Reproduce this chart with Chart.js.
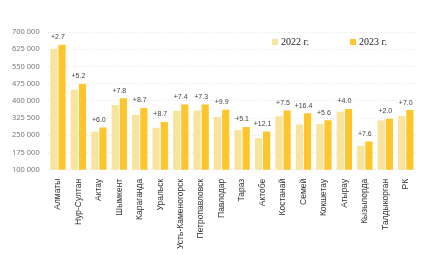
<!DOCTYPE html>
<html><head><meta charset="utf-8">
<script src="https://cdn.jsdelivr.net/npm/chart.js@4"></script>
<style>html,body{margin:0;padding:0;background:#fff;overflow:hidden}#o{width:432px;height:261px;box-sizing:border-box;padding-top:5px}#w{position:relative;width:432px;height:256px}</style>
</head><body><div id="o"><div id="w"><canvas id="c"></canvas></div></div>
<script>
const categories = ["Алматы","Нур-Султан","Актау","Шымкент","Караганда","Уральск","Усть-Каменогорск","Петропавловск","Павлодар","Тараз","Актобе","Костанай","Семей","Кокшетау","Атырау","Кызылорда","Талдыкорган","РК"];
const values2022 = [627000,448000,266000,382000,338000,283000,357000,358000,330000,273000,238000,333000,297000,299000,353000,205000,315000,334000];
const values2023 = [645000,474000,284000,411000,369000,308000,384000,384000,361000,286000,267000,358000,346000,316000,365000,223000,322000,360000];
const changeLabels = ["+2.7","+5.2","+6.0","+7.8","+8.7","+8.7","+7.4","+7.3","+9.9","+5.1","+12.1","+7.5","+16.4","+5.6","+4.0","+7.6","+2.0","+7.0"];
const yTickLabels = ["100 000","175 000","250 000","325 500","400 000","475 000","550 000","625 000","700 000"];
const seriesNames = ["2022 г.","2023 г."];
const colors = ["#F9E49E","#FEC62C"];

const labelPlugin = {
  id:'changeLabels',
  afterDatasetsDraw(chart){
    const ctx = chart.ctx;
    const m0 = chart.getDatasetMeta(0), m1 = chart.getDatasetMeta(1);
    ctx.save();
    ctx.font = '7px "Liberation Sans"';
    ctx.fillStyle = '#444';
    ctx.textAlign = 'center';
    ctx.textBaseline = 'bottom';
    changeLabels.forEach((t,i)=>{
      const a=m0.data[i], b=m1.data[i];
      const x=(a.x+b.x)/2, y=Math.min(a.y,b.y);
      ctx.fillText(t,x,y-4);
    });
    ctx.restore();
  }
};
const legendPlugin = {
  id:'customLegend',
  afterDraw(chart){
    const ctx = chart.ctx;
    ctx.save();
    ctx.font = '10px "Liberation Serif"';
    ctx.textBaseline = 'middle';
    const xs=[272,350], y=37;
    seriesNames.forEach((n,i)=>{
      ctx.fillStyle=colors[i];
      ctx.fillRect(xs[i],y-3,6,6);
      ctx.fillStyle='#222';
      ctx.fillText(n,xs[i]+9,y);
    });
    ctx.restore();
  }
};

new Chart(document.getElementById('c'),{
  type:'bar',
  data:{labels:categories,datasets:[
    {label:seriesNames[0],data:values2022,backgroundColor:colors[0],categoryPercentage:0.8,barPercentage:0.88},
    {label:seriesNames[1],data:values2023,backgroundColor:colors[1],categoryPercentage:0.8,barPercentage:0.88}
  ]},
  options:{
    responsive:true,maintainAspectRatio:false,animation:false,
    layout:{padding:{top:27,right:16,left:4,bottom:3}},
    plugins:{legend:{display:false},tooltip:{enabled:false}},
    scales:{
      x:{grid:{display:false,drawTicks:false},border:{display:false},
        ticks:{minRotation:90,maxRotation:90,autoSkip:false,color:'#333',font:{family:'"Liberation Sans"',size:8.5},padding:9}},
      y:{min:100000,max:700000,
        afterBuildTicks(s){s.ticks=yTickLabels.map((_,i)=>({value:100000+i*75000}));},
        grid:{color:'#e4e4e4',drawTicks:false},border:{display:false,dash:[1,2]},
        ticks:{color:'#777',font:{family:'"Noto Sans"',size:7.5},padding:8,
          callback:(v,i)=>yTickLabels[i]}}
    }
  },
  plugins:[labelPlugin,legendPlugin]
});
</script></body></html>
